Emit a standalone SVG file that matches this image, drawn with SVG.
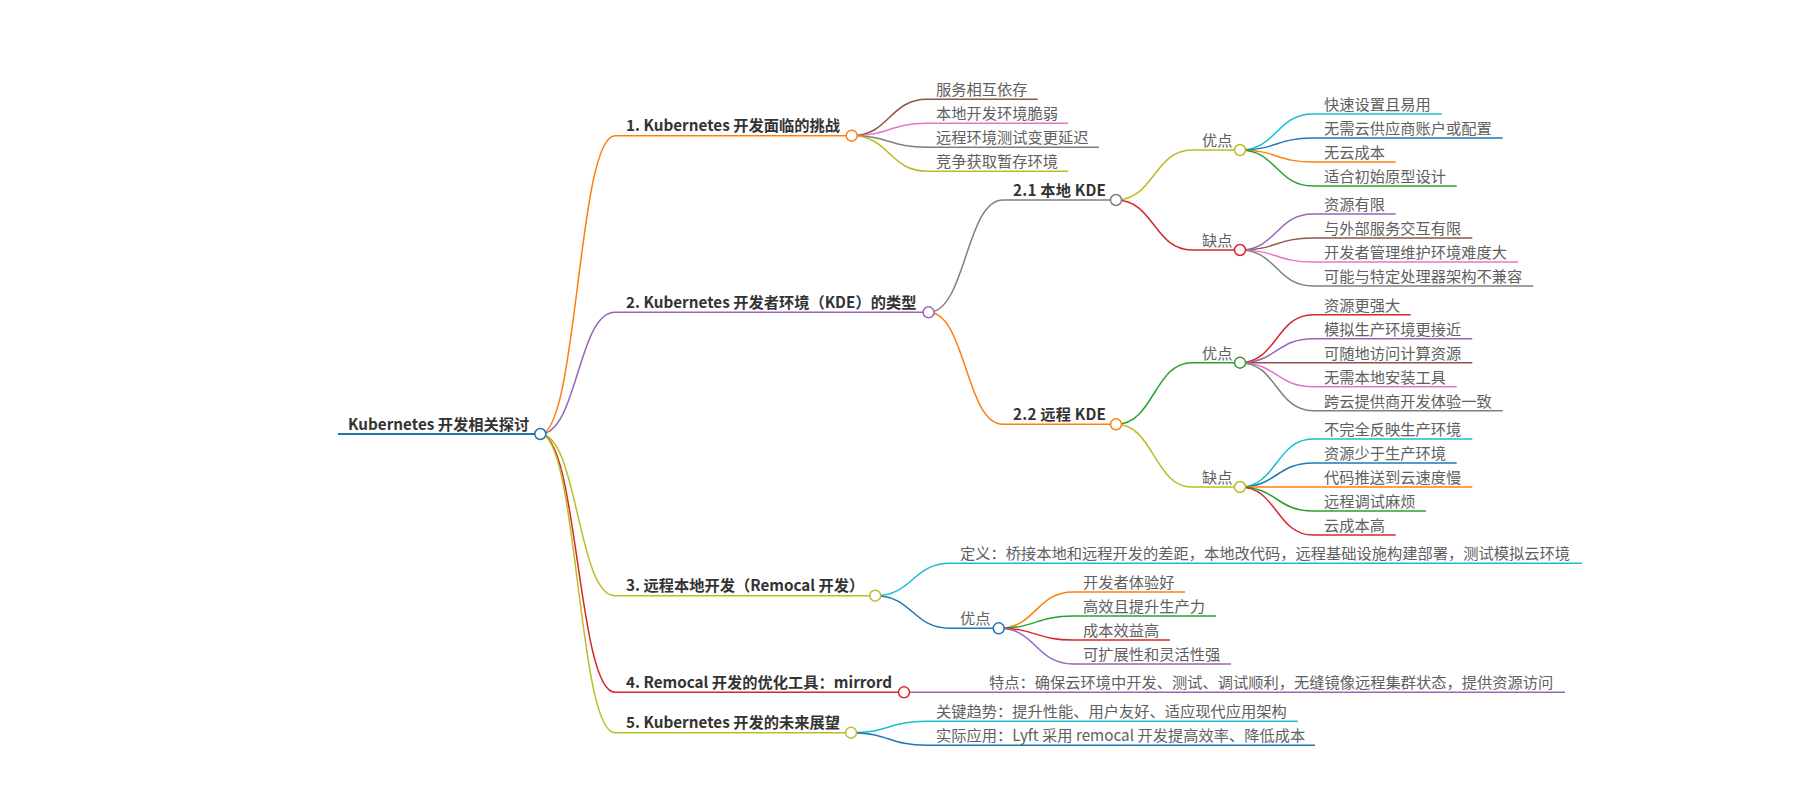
<svg xmlns="http://www.w3.org/2000/svg" width="1800" height="800" viewBox="0 0 1800 800">
<style>
text{font-family:"Noto Sans CJK SC","Microsoft YaHei","Liberation Sans",sans-serif;font-size:15.25px}
.b{font-weight:bold;fill:#333}
.t{fill:#606060}
.l{fill:none;stroke-width:1.5}
.u{fill:none;stroke-width:1.5}
.r{stroke-width:2}
.c{fill:#fff;stroke-width:1.5}
.blue{stroke:#1f77b4}.orange{stroke:#ff7f0e}.green{stroke:#2ca02c}.red{stroke:#d62728}.purple{stroke:#9467bd}
.brown{stroke:#8c564b}.pink{stroke:#e377c2}.gray{stroke:#7f7f7f}.olive{stroke:#bcbd22}.cyan{stroke:#17becf}
</style>
<rect width="1800" height="800" fill="#fff"/>
<g id="connectors">
<path class="l orange" d="M540.3 434C577.7 434 577.7 135.7 615 135.7"/>
<path class="l purple" d="M540.3 434C577.7 434 577.7 312.3 615 312.3"/>
<path class="l olive" d="M540.3 434C577.7 434 577.7 595.7 615 595.7"/>
<path class="l red" d="M540.3 434C577.7 434 577.7 692.3 615 692.3"/>
<path class="l olive" d="M540.3 434C577.7 434 577.7 732.7 615 732.7"/>
<path class="l brown" d="M851.7 135.7C889.4 135.7 889.4 99.3 927 99.3"/>
<path class="l pink" d="M851.7 135.7C889.4 135.7 889.4 123.3 927 123.3"/>
<path class="l gray" d="M851.7 135.7C889.4 135.7 889.4 147.3 927 147.3"/>
<path class="l olive" d="M851.7 135.7C889.4 135.7 889.4 171.3 927 171.3"/>
<path class="l gray" d="M928.6 312.3C965.8 312.3 965.8 200 1003 200"/>
<path class="l orange" d="M928.6 312.3C965.8 312.3 965.8 424.3 1003 424.3"/>
<path class="l olive" d="M1116 200C1154 200 1154 150 1192 150"/>
<path class="l red" d="M1116 200C1154 200 1154 250 1192 250"/>
<path class="l green" d="M1116 424.3C1154 424.3 1154 362.7 1192 362.7"/>
<path class="l olive" d="M1116 424.3C1154 424.3 1154 487 1192 487"/>
<path class="l cyan" d="M1240 150C1276.5 150 1276.5 114 1313 114"/>
<path class="l blue" d="M1240 150C1276.5 150 1276.5 138 1313 138"/>
<path class="l orange" d="M1240 150C1276.5 150 1276.5 162 1313 162"/>
<path class="l green" d="M1240 150C1276.5 150 1276.5 186 1313 186"/>
<path class="l purple" d="M1240 250C1276.5 250 1276.5 214 1313 214"/>
<path class="l brown" d="M1240 250C1276.5 250 1276.5 238 1313 238"/>
<path class="l pink" d="M1240 250C1276.5 250 1276.5 262 1313 262"/>
<path class="l gray" d="M1240 250C1276.5 250 1276.5 286 1313 286"/>
<path class="l red" d="M1240 362.7C1276.5 362.7 1276.5 314.7 1313 314.7"/>
<path class="l purple" d="M1240 362.7C1276.5 362.7 1276.5 338.7 1313 338.7"/>
<path class="l brown" d="M1240 362.7C1276.5 362.7 1276.5 362.7 1313 362.7"/>
<path class="l pink" d="M1240 362.7C1276.5 362.7 1276.5 386.7 1313 386.7"/>
<path class="l gray" d="M1240 362.7C1276.5 362.7 1276.5 410.7 1313 410.7"/>
<path class="l cyan" d="M1240 487C1276.5 487 1276.5 439 1313 439"/>
<path class="l blue" d="M1240 487C1276.5 487 1276.5 463 1313 463"/>
<path class="l orange" d="M1240 487C1276.5 487 1276.5 487 1313 487"/>
<path class="l green" d="M1240 487C1276.5 487 1276.5 511 1313 511"/>
<path class="l red" d="M1240 487C1276.5 487 1276.5 535 1313 535"/>
<path class="l cyan" d="M875.2 595.7C912.6 595.7 912.6 563.3 950 563.3"/>
<path class="l blue" d="M875.2 595.7C912.6 595.7 912.6 628.3 950 628.3"/>
<path class="l orange" d="M998.7 628.3C1035.9 628.3 1035.9 592 1073 592"/>
<path class="l green" d="M998.7 628.3C1035.9 628.3 1035.9 616 1073 616"/>
<path class="l red" d="M998.7 628.3C1035.9 628.3 1035.9 640 1073 640"/>
<path class="l purple" d="M998.7 628.3C1035.9 628.3 1035.9 664 1073 664"/>
<path class="l purple" d="M904 692.3L979 692.3"/>
<path class="l cyan" d="M851 732.7C889 732.7 889 721.3 927 721.3"/>
<path class="l blue" d="M851 732.7C889 732.7 889 745.3 927 745.3"/>
</g>
<g id="root">
<path class="u r blue" d="M338 434H540.3"/>
<text class="b" x="348" y="429.5">Kubernetes 开发相关探讨</text>
<circle class="c blue" cx="540.3" cy="434" r="5.5"/>
</g>
<g id="n1">
<path class="u orange" d="M615 135.7H851.7"/>
<text class="b" x="626" y="131.2">1. Kubernetes 开发面临的挑战</text>
<circle class="c orange" cx="851.7" cy="135.7" r="5.5"/>
</g>
<g id="n1-1"><path class="u brown" d="M927 99.3H1037.7"/><text class="t" x="936" y="95.3">服务相互依存</text></g>
<g id="n1-2"><path class="u pink" d="M927 123.3H1068.3"/><text class="t" x="936" y="119.3">本地开发环境脆弱</text></g>
<g id="n1-3"><path class="u gray" d="M927 147.3H1099"/><text class="t" x="936" y="143.3">远程环境测试变更延迟</text></g>
<g id="n1-4"><path class="u olive" d="M927 171.3H1068.3"/><text class="t" x="936" y="167.3">竞争获取暂存环境</text></g>
<g id="n2">
<path class="u purple" d="M615 312.3H928.6"/>
<text class="b" x="626" y="307.8">2. Kubernetes 开发者环境（KDE）的类型</text>
<circle class="c purple" cx="928.6" cy="312.3" r="5.5"/>
</g>
<g id="n2-1">
<path class="u gray" d="M1003 200H1116"/>
<text class="b" x="1013" y="195.5" textLength="93" lengthAdjust="spacing">2.1 本地 KDE</text>
<circle class="c gray" cx="1116" cy="200" r="5.5"/>
</g>
<g id="n2-1-p">
<path class="u olive" d="M1192 150H1240"/>
<text class="t" x="1202" y="146">优点</text>
<circle class="c olive" cx="1240" cy="150" r="5.5"/>
</g>
<g id="n2-1-p1"><path class="u cyan" d="M1313 114H1441.7"/><text class="t" x="1324" y="110">快速设置且易用</text></g>
<g id="n2-1-p2"><path class="u blue" d="M1313 138H1502.7"/><text class="t" x="1324" y="134">无需云供应商账户或配置</text></g>
<g id="n2-1-p3"><path class="u orange" d="M1313 162H1395.7"/><text class="t" x="1324" y="158">无云成本</text></g>
<g id="n2-1-p4"><path class="u green" d="M1313 186H1456.7"/><text class="t" x="1324" y="182">适合初始原型设计</text></g>
<g id="n2-1-c">
<path class="u red" d="M1192 250H1240"/>
<text class="t" x="1202" y="246">缺点</text>
<circle class="c red" cx="1240" cy="250" r="5.5"/>
</g>
<g id="n2-1-c1"><path class="u purple" d="M1313 214H1395.7"/><text class="t" x="1324" y="210">资源有限</text></g>
<g id="n2-1-c2"><path class="u brown" d="M1313 238H1472.3"/><text class="t" x="1324" y="234">与外部服务交互有限</text></g>
<g id="n2-1-c3"><path class="u pink" d="M1313 262H1518.3"/><text class="t" x="1324" y="258">开发者管理维护环境难度大</text></g>
<g id="n2-1-c4"><path class="u gray" d="M1313 286H1533.3"/><text class="t" x="1324" y="282">可能与特定处理器架构不兼容</text></g>
<g id="n2-2">
<path class="u orange" d="M1003 424.3H1116"/>
<text class="b" x="1013" y="419.8" textLength="93" lengthAdjust="spacing">2.2 远程 KDE</text>
<circle class="c orange" cx="1116" cy="424.3" r="5.5"/>
</g>
<g id="n2-2-p">
<path class="u green" d="M1192 362.7H1240"/>
<text class="t" x="1202" y="358.7">优点</text>
<circle class="c green" cx="1240" cy="362.7" r="5.5"/>
</g>
<g id="n2-2-p1"><path class="u red" d="M1313 314.7H1410.7"/><text class="t" x="1324" y="310.7">资源更强大</text></g>
<g id="n2-2-p2"><path class="u purple" d="M1313 338.7H1472.3"/><text class="t" x="1324" y="334.7">模拟生产环境更接近</text></g>
<g id="n2-2-p3"><path class="u brown" d="M1313 362.7H1472.3"/><text class="t" x="1324" y="358.7">可随地访问计算资源</text></g>
<g id="n2-2-p4"><path class="u pink" d="M1313 386.7H1456.7"/><text class="t" x="1324" y="382.7">无需本地安装工具</text></g>
<g id="n2-2-p5"><path class="u gray" d="M1313 410.7H1502.7"/><text class="t" x="1324" y="406.7">跨云提供商开发体验一致</text></g>
<g id="n2-2-c">
<path class="u olive" d="M1192 487H1240"/>
<text class="t" x="1202" y="483">缺点</text>
<circle class="c olive" cx="1240" cy="487" r="5.5"/>
</g>
<g id="n2-2-c1"><path class="u cyan" d="M1313 439H1472.3"/><text class="t" x="1324" y="435">不完全反映生产环境</text></g>
<g id="n2-2-c2"><path class="u blue" d="M1313 463H1456.7"/><text class="t" x="1324" y="459">资源少于生产环境</text></g>
<g id="n2-2-c3"><path class="u orange" d="M1313 487H1472.3"/><text class="t" x="1324" y="483">代码推送到云速度慢</text></g>
<g id="n2-2-c4"><path class="u green" d="M1313 511H1426"/><text class="t" x="1324" y="507">远程调试麻烦</text></g>
<g id="n2-2-c5"><path class="u red" d="M1313 535H1395.7"/><text class="t" x="1324" y="531">云成本高</text></g>
<g id="n3">
<path class="u olive" d="M615 595.7H875.2"/>
<text class="b" x="626" y="591.2">3. 远程本地开发（Remocal 开发）</text>
<circle class="c olive" cx="875.2" cy="595.7" r="5.5"/>
</g>
<g id="n3-1"><path class="u cyan" d="M950 563.3H1582"/><text class="t" x="960" y="559.3">定义：桥接本地和远程开发的差距，本地改代码，远程基础设施构建部署，测试模拟云环境</text></g>
<g id="n3-2">
<path class="u blue" d="M950 628.3H998.7"/>
<text class="t" x="960" y="624.3">优点</text>
<circle class="c blue" cx="998.7" cy="628.3" r="5.5"/>
</g>
<g id="n3-2-1"><path class="u orange" d="M1073 592H1185"/><text class="t" x="1083" y="588">开发者体验好</text></g>
<g id="n3-2-2"><path class="u green" d="M1073 616H1216"/><text class="t" x="1083" y="612">高效且提升生产力</text></g>
<g id="n3-2-3"><path class="u red" d="M1073 640H1170"/><text class="t" x="1083" y="636">成本效益高</text></g>
<g id="n3-2-4"><path class="u purple" d="M1073 664H1231"/><text class="t" x="1083" y="660">可扩展性和灵活性强</text></g>
<g id="n4">
<path class="u red" d="M615 692.3H904"/>
<text class="b" x="626" y="687.8">4. Remocal 开发的优化工具：mirrord</text>
<circle class="c red" cx="904" cy="692.3" r="5.5"/>
</g>
<g id="n4-1"><path class="u purple" d="M979 692.3H1565"/><text class="t" x="989" y="688.3">特点：确保云环境中开发、测试、调试顺利，无缝镜像远程集群状态，提供资源访问</text></g>
<g id="n5">
<path class="u olive" d="M615 732.7H851"/>
<text class="b" x="626" y="728.2">5. Kubernetes 开发的未来展望</text>
<circle class="c olive" cx="851" cy="732.7" r="5.5"/>
</g>
<g id="n5-1"><path class="u cyan" d="M927 721.3H1297.7"/><text class="t" x="936" y="717.3">关键趋势：提升性能、用户友好、适应现代应用架构</text></g>
<g id="n5-2"><path class="u blue" d="M927 745.3H1315"/><text class="t" x="936" y="741.3">实际应用：Lyft 采用 remocal 开发提高效率、降低成本</text></g>
</svg>
